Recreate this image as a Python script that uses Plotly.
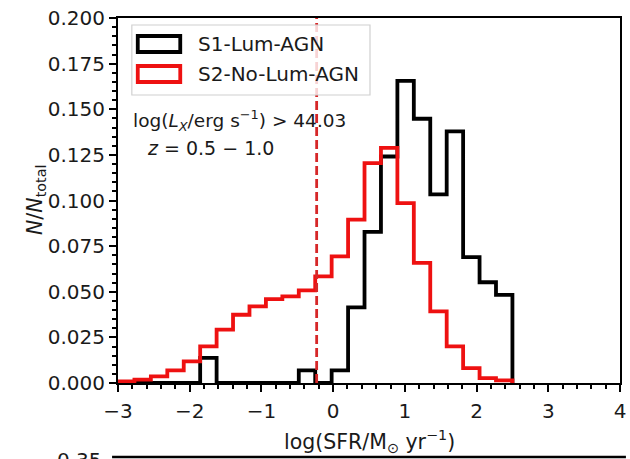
import numpy as np
import plotly.graph_objects as go

# ---------------- data ----------------
BIN_LO, BIN_HI, N_BINS = -3.0, 2.5, 24
s1_name = "S1-Lum-AGN"
s2_name = "S2-No-Lum-AGN"
s1_values = [0.0, 0.0, 0.0, 0.0, 0.0, 0.0138, 0.0, 0.0, 0.0, 0.0, 0.0, 0.0069,
             0.0, 0.0069, 0.0414, 0.0828, 0.1241, 0.1655, 0.1448, 0.1034, 0.1379,
             0.0690, 0.0552, 0.0483]
s2_values = [0.0009, 0.0018, 0.0036, 0.0069, 0.0118, 0.0201, 0.0292, 0.0374,
             0.0420, 0.0460, 0.0475, 0.0507, 0.0584, 0.0694, 0.0895, 0.1205,
             0.1288, 0.0986, 0.0658, 0.0392, 0.0201, 0.0082, 0.0027, 0.0014]
threshold_x = -0.23
x_ticks = [-3, -2, -1, 0, 1, 2, 3, 4]
y_ticks = [0.0, 0.025, 0.05, 0.075, 0.1, 0.125, 0.15, 0.175, 0.2]
y_ticklabels = ["0.000", "0.025", "0.050", "0.075", "0.100", "0.125", "0.150", "0.175", "0.200"]
lx_text = "log(<i>L</i><sub><i>X</i></sub>/erg s<sup>−1</sup>) > 44.03"
z_text = "<i>z</i> = 0.5 − 1.0"

edges = np.linspace(BIN_LO, BIN_HI, N_BINS + 1)

# ---------------- layout geometry (pixels) ----------------
W, H = 630, 459
L, R, T, B = 118, 4, 18, 76
PW, PH = W - L - R, H - T - B
FONT = "DejaVu Sans"
TXT = "#1a1a1a"


def px(x):
    return (x - L) / PW


def py(y):
    return (T + PH - y) / PH


def step_trace(vals, color, name):
    xs = [edges[0]] + list(edges)
    ys = [0.0] + list(vals) + [0.0]
    return go.Scatter(x=xs, y=ys, mode="lines", line=dict(color=color, width=3.8, shape="hv"),
                      name=name, showlegend=False, hoverinfo="skip")


fig = go.Figure()
fig.add_trace(step_trace(s1_values, "black", s1_name))
fig.add_trace(step_trace(s2_values, "#ee1111", s2_name))
fig.add_trace(go.Scatter(x=[threshold_x, threshold_x], y=[0, 0.2], mode="lines",
                         line=dict(color="#d62728", width=2.8, dash="9px,4px"),
                         showlegend=False, hoverinfo="skip"))

shapes = []
# legend frame
shapes.append(dict(type="rect", xref="paper", yref="paper", x0=px(132), x1=px(373), y0=py(95), y1=py(25),
                   line=dict(color="#d0d0d0", width=1.2), fillcolor="rgba(255,255,255,0.8)", layer="above"))
shapes.append(dict(type="rect", xref="paper", yref="paper", x0=px(138), x1=px(181), y0=py(52), y1=py(36),
                   line=dict(color="black", width=3.8), fillcolor="rgba(0,0,0,0)", layer="above"))
shapes.append(dict(type="rect", xref="paper", yref="paper", x0=px(138), x1=px(181), y0=py(82), y1=py(66),
                   line=dict(color="#ee1111", width=3.8), fillcolor="rgba(0,0,0,0)", layer="above"))
# top spine of the next panel (cut off)
shapes.append(dict(type="line", xref="paper", yref="paper", x0=px(112), x1=px(632), y0=py(457), y1=py(457),
                   line=dict(color="black", width=2.5), layer="above"))

annotations = [
    dict(text=s1_name, x=px(197), y=py(44), xref="paper", yref="paper", xanchor="left", yanchor="middle",
         showarrow=False, font=dict(family=FONT, size=20, color=TXT)),
    dict(text=s2_name, x=px(197), y=py(74), xref="paper", yref="paper", xanchor="left", yanchor="middle",
         showarrow=False, font=dict(family=FONT, size=20, color=TXT)),
    dict(text=lx_text, x=px(131), y=py(121), xref="paper", yref="paper", xanchor="left", yanchor="middle",
         showarrow=False, font=dict(family=FONT, size=18.5, color=TXT)),
    dict(text=z_text, x=px(145), y=py(148), xref="paper", yref="paper", xanchor="left", yanchor="middle",
         showarrow=False, font=dict(family=FONT, size=19, color=TXT)),
    dict(text="log(SFR/M<sub>⊙</sub> yr<sup>−1</sup>)", x=px(372), y=py(441), xref="paper", yref="paper",
         xanchor="center", yanchor="middle", showarrow=False, font=dict(family=FONT, size=20.5, color=TXT)),
    dict(text="<i>N</i>/<i>N</i><sub>total</sub>", x=px(35), y=py(200), xref="paper", yref="paper",
         xanchor="center", yanchor="middle", textangle=-90, showarrow=False,
         font=dict(family=FONT, size=20.5, color=TXT)),
    dict(text="0.35", x=px(104), y=py(460), xref="paper", yref="paper", xanchor="right", yanchor="middle",
         showarrow=False, font=dict(family=FONT, size=20, color=TXT)),
]

fig.update_layout(
    width=W, height=H, margin=dict(l=L, r=R, t=T, b=B),
    paper_bgcolor="white", plot_bgcolor="white",
    shapes=shapes, annotations=annotations,
    font=dict(family=FONT, size=20, color=TXT),
    xaxis=dict(range=[-3, 4], tickvals=x_ticks, ticktext=[str(v).replace("-", "−") for v in x_ticks],
               ticks="outside", ticklen=7, tickwidth=2, tickcolor="black", ticklabeloverflow="allow",
               ticklabelstandoff=2,
               minor=dict(dtick=0.2, ticks="outside", ticklen=4, tickwidth=1.5, tickcolor="black"),
               showline=True, linecolor="black", linewidth=2, mirror=True, showgrid=False, zeroline=False,
               tickfont=dict(family=FONT, size=20, color=TXT)),
    yaxis=dict(range=[0, 0.2], tickvals=y_ticks, ticktext=y_ticklabels,
               ticks="outside", ticklen=7, tickwidth=2, tickcolor="black", ticklabeloverflow="allow",
               minor=dict(dtick=0.005, ticks="outside", ticklen=4, tickwidth=1.5, tickcolor="black"),
               showline=True, linecolor="black", linewidth=2, mirror=True, showgrid=False, zeroline=False,
               tickfont=dict(family=FONT, size=20, color=TXT)),
)

fig.write_html("out.html")
